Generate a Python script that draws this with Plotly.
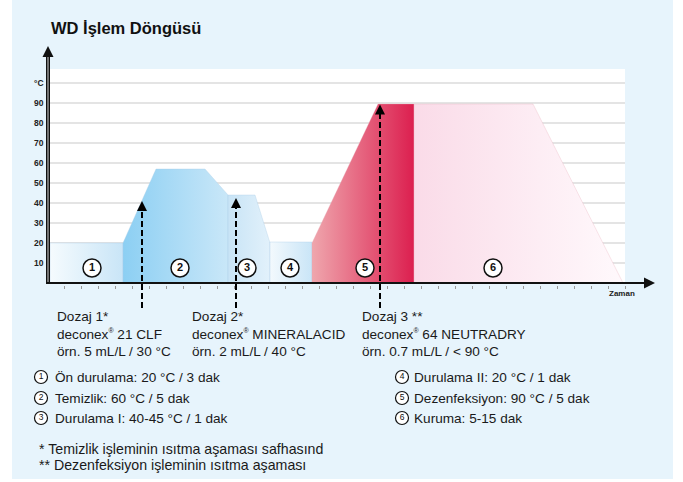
import numpy as np
import plotly.graph_objects as go

W, H = 683, 482
FONT = "Arial, Liberation Sans, sans-serif"

# ---------------- data ----------------
title = "WD İşlem Döngüsü"
y_ticks = [10, 20, 30, 40, 50, 60, 70, 80, 90]
y_unit = "°C"
x_label = "Zaman"

# phase polygons (time units, temperature °C)
phase_t = {
    1: [0.4, 0.4, 15, 15],
    2: [15, 15, 21.6, 31.4, 36, 36],
    3: [36, 36, 41.4, 44.4, 44.4],
    4: [44.4, 44.4, 52.8, 52.8],
    5: [52.8, 52.8, 66, 73.2, 73.2],
    6: [73.2, 73.2, 97, 115],
}
phase_T = {
    1: [0, 20, 20, 0],
    2: [0, 20, 57, 57, 44, 0],
    3: [0, 44, 44, 20, 0],
    4: [0, 20.5, 20.5, 0],
    5: [0, 20, 89.5, 89.5, 0],
    6: [0, 89.5, 89.5, 0],
}
phase_colors = {
    1: ["#f5fbfe", "#c9e5f7"],
    2: ["#8ccff3", "#c9e7f8"],
    3: ["#c8e4f6", "#e2f1fb"],
    4: ["#f3f9fd", "#c9e5f7"],
    5: ["#efa6ad", "#dc1f4f"],
    6: ["#fadbe8", "#fff9fc"],
}
phase_num_t = [8.8, 26.4, 39.8, 48.4, 63.4, 89]
phase_num_T = [7.5, 7.5, 7.5, 7.5, 7.5, 7.5]
phase_nums = ["1", "2", "3", "4", "5", "6"]

dose_t = [18.8, 37.6, 66.4]
dose_tip = [41, 42.5, 89.3]
dose_bottom = -12.5
REG = "<sup><span style='font-size:7px'>®</span></sup>"
dose_texts = [
    f"Dozaj 1*<br>deconex{REG} 21 CLF<br>örn. 5 mL/L / 30 °C",
    f"Dozaj 2*<br>deconex{REG} MINERALACID<br>örn. 2 mL/L / 40 °C",
    f"Dozaj 3 **<br>deconex{REG} 64 NEUTRADRY<br>örn. 0.7 mL/L / < 90 °C",
]
legend_left = ["Ön durulama: 20 °C / 3 dak", "Temizlik: 60 °C / 5 dak", "Durulama I: 40-45 °C / 1 dak"]
legend_right = ["Durulama II: 20 °C / 1 dak", "Dezenfeksiyon: 90 °C / 5 dak", "Kuruma: 5-15 dak"]
footnotes = ["* Temizlik işleminin ısıtma aşaması safhasınd", "** Dezenfeksiyon işleminin ısıtma aşaması"]

# ---------------- scale helpers (pixel <-> data) ----------------
def t_of(px):
    return (px - 48) / 5.0

def T_of(py):
    return (283 - py) / 2.0

def px_x(px):
    return px / W

def px_y(py):
    return 1 - py / H

fig = go.Figure()

# background panel, white plot area, gridlines
shapes = [
    dict(type="rect", xref="paper", yref="paper", x0=px_x(12), x1=px_x(673), y0=px_y(479), y1=1,
         fillcolor="#e7f4fc", line_width=0, layer="below"),
    dict(type="rect", xref="x", yref="y", x0=t_of(50), x1=t_of(625), y0=0, y1=T_of(69),
         fillcolor="#ffffff", line_width=0, layer="below"),
]
for v in y_ticks + [100]:
    shapes.append(dict(type="line", xref="x", yref="y", x0=t_of(50), x1=t_of(625), y0=v, y1=v,
                       line=dict(color="#e4e4e4", width=2), layer="below"))

# phase areas
for k in phase_t:
    fig.add_trace(go.Scatter(
        x=phase_t[k], y=phase_T[k], mode="lines", fill="toself",
        fillgradient=dict(type="horizontal", colorscale=[[0, phase_colors[k][0]], [1, phase_colors[k][1]]]),
        line=dict(width=0.6, color="rgba(170,205,230,0.6)" if k < 5 else "rgba(230,170,185,0.5)"),
        hoverinfo="skip", showlegend=False))

# axes lines
fig.add_trace(go.Scatter(x=[0, 0], y=[0, T_of(52)], mode="lines",
                         line=dict(color="#111", width=4), hoverinfo="skip", showlegend=False))
fig.add_trace(go.Scatter(x=[0, 0], y=[0, T_of(52)], mode="lines",
                         line=dict(color="#8c8c8c", width=1.6), hoverinfo="skip", showlegend=False))
fig.add_trace(go.Scatter(x=[t_of(46), t_of(648)], y=[0, 0], mode="lines",
                         line=dict(color="#111", width=2.2), hoverinfo="skip", showlegend=False))

# dashed dosage lines
for t, tip in zip(dose_t, dose_tip):
    fig.add_trace(go.Scatter(x=[t, t], y=[dose_bottom, tip - 2], mode="lines",
                             line=dict(color="#000", width=2, dash="6px,3px"),
                             hoverinfo="skip", showlegend=False))

# phase number circles
fig.add_trace(go.Scatter(
    x=phase_num_t, y=phase_num_T, mode="markers+text", text=[f"<b>{n}</b>" for n in phase_nums],
    textfont=dict(family=FONT, size=11, color="#111"),
    textposition="middle center",
    marker=dict(size=18, color="#ffffff", line=dict(color="#111", width=1.5)),
    hoverinfo="skip", showlegend=False))

# legend circles (glyphs)
leg_rows = [377, 398, 418]
fig.add_trace(go.Scatter(
    x=[t_of(41)] * 3 + [t_of(402)] * 3, y=[T_of(r) for r in leg_rows] * 2,
    mode="markers+text", text=phase_nums, textposition="middle center",
    textfont=dict(family=FONT, size=8.5, color="#111"),
    marker=dict(size=13, color="#ffffff", line=dict(color="#111", width=1.2)),
    hoverinfo="skip", showlegend=False))

annotations = []
# title
annotations.append(dict(xref="paper", yref="paper", x=px_x(49), y=px_y(28), text=f"<b>{title}</b>",
                        showarrow=False, xanchor="left", yanchor="middle",
                        font=dict(family=FONT, size=16.5, color="#111")))
# y tick labels
for v in y_ticks:
    annotations.append(dict(xref="paper", yref="y", x=px_x(46), y=v, text=f"<b>{v}</b>",
                            showarrow=False, xanchor="right", yanchor="middle",
                            font=dict(family=FONT, size=8.5, color="#222")))
annotations.append(dict(xref="paper", yref="y", x=px_x(46), y=100, text=f"<b>{y_unit}</b>",
                        showarrow=False, xanchor="right", yanchor="middle",
                        font=dict(family=FONT, size=8.5, color="#222")))
# x label
annotations.append(dict(xref="paper", yref="paper", x=px_x(622), y=px_y(293), text=f"<b>{x_label}</b>",
                        showarrow=False, xanchor="center", yanchor="middle",
                        font=dict(family=FONT, size=8, color="#222")))
# axis arrowheads
annotations.append(dict(x=0, y=T_of(46), ax=0, ay=T_of(56), xref="x", yref="y", axref="x", ayref="y",
                        text="", showarrow=True, arrowhead=2, arrowsize=1.1, arrowwidth=2, arrowcolor="#111"))
annotations.append(dict(x=t_of(655), y=0, ax=t_of(640), ay=0, xref="x", yref="y", axref="x", ayref="y",
                        text="", showarrow=True, arrowhead=2, arrowsize=1.1, arrowwidth=2, arrowcolor="#111"))
# dosage arrowheads
for t, tip in zip(dose_t, dose_tip):
    annotations.append(dict(x=t, y=tip, ax=t, ay=tip - 5, xref="x", yref="y", axref="x", ayref="y",
                            text="", showarrow=True, arrowhead=2, arrowsize=1, arrowwidth=2, arrowcolor="#000"))
# dosage texts
for x0, txt in zip([55, 190, 360], dose_texts):
    annotations.append(dict(xref="paper", yref="paper", x=px_x(x0), y=px_y(334), text=txt,
                            showarrow=False, xanchor="left", yanchor="middle", align="left",
                            font=dict(family=FONT, size=13.6, color="#1a1a1a")))
# legend texts
for r, txt in zip(leg_rows, legend_left):
    annotations.append(dict(xref="paper", yref="paper", x=px_x(53), y=px_y(r), text=txt,
                            showarrow=False, xanchor="left", yanchor="middle",
                            font=dict(family=FONT, size=13.6, color="#1a1a1a")))
for r, txt in zip(leg_rows, legend_right):
    annotations.append(dict(xref="paper", yref="paper", x=px_x(412), y=px_y(r), text=txt,
                            showarrow=False, xanchor="left", yanchor="middle",
                            font=dict(family=FONT, size=13.6, color="#1a1a1a")))
# footnotes
for y0, txt in zip([449, 465], footnotes):
    annotations.append(dict(xref="paper", yref="paper", x=px_x(37), y=px_y(y0), text=txt,
                            showarrow=False, xanchor="left", yanchor="middle",
                            font=dict(family=FONT, size=14.2, color="#1a1a1a")))

fig.update_layout(
    width=W, height=H, margin=dict(l=0, r=0, t=0, b=0),
    paper_bgcolor="#ffffff", plot_bgcolor="rgba(0,0,0,0)",
    shapes=shapes, annotations=annotations, showlegend=False,
    xaxis=dict(range=[t_of(0), t_of(W)], showgrid=False, zeroline=False, showline=False,
               anchor="free", position=px_y(284.5), ticks="outside", ticklen=3, tickwidth=1,
               tickcolor="#9a9a9a", tickvals=list(np.arange(t_of(64), t_of(640), 3.4)),
               showticklabels=False, fixedrange=True),
    yaxis=dict(range=[T_of(H), T_of(0)], showgrid=False, zeroline=False, showline=False,
               showticklabels=False, ticks="", fixedrange=True),
)

fig.write_html("out.html", config={"displayModeBar": False},
               post_script="document.body.style.margin='0';document.body.style.padding='0';")
